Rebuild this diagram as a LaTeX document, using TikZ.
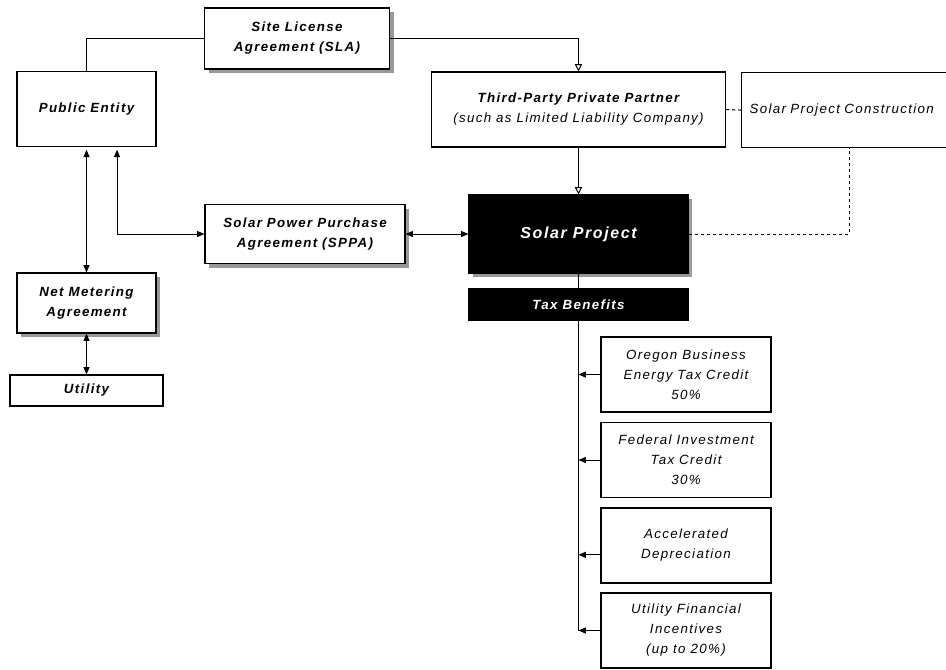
\documentclass[tikz,border=0pt]{standalone}
\usepackage{fontspec}
\setmainfont{Liberation Sans}[LetterSpace=10]
\usetikzlibrary{arrows.meta,shadows,calc}

\begin{document}
\begin{tikzpicture}[
        %Environment config
        x=0.75pt, y=-0.75pt,
        line width=0.75pt,
        >={Triangle[length=5.5pt,width=4.5pt]},
        %Environment styles
        BoxCfg/.style={
            draw,
            fill=white,
            line width=0.85pt,
            inner sep=2pt,
            align=center,
            font=\fontsize{10}{15}\selectfont\itshape
        },
        BoldCfg/.style={
            BoxCfg,
            font=\fontsize{10}{15}\selectfont\bfseries\itshape
        },
        ShadowCfg/.style={
            drop shadow={shadow xshift=3pt, shadow yshift=-3pt, fill=black!40, opacity=1}
        },
        DarkCfg/.style={
            BoldCfg,
            fill=black,
            text=white
        },
        OpenTip/.style={-{Triangle[open,length=5.5pt,width=5.5pt]}},
        DashCfg/.style={dash pattern=on 2.5pt off 2pt}
    ]
    \clip (0,0) rectangle (946,669);

    \path
        (297,38.5) node[BoldCfg,ShadowCfg,minimum width=138.75pt,minimum height=45.75pt](SLA){Site License\\Agreement (SLA)}
        (86.5,109) node[BoldCfg,minimum width=104.25pt,minimum height=56.25pt](PubEnt){Public Entity}
        (578.5,109.5) node[BoxCfg,minimum width=220.5pt,minimum height=56.25pt](Third){\textbf{Third-Party Private Partner}\\(such as Limited Liability Company)}
        (741,72) node[BoxCfg,anchor=north west,align=left,text width=175pt,inner xsep=6pt,minimum height=56.25pt](Constr){Solar Project Construction}
        (578.5,234) node[DarkCfg,ShadowCfg,font=\fontsize{12}{14}\selectfont\bfseries\itshape,minimum width=164.25pt,minimum height=58.5pt](Solar){Solar Project}
        (578.5,304.5) node[DarkCfg,minimum width=164.25pt,minimum height=23.25pt](Tax){Tax Benefits}
        (305,234) node[BoldCfg,ShadowCfg,minimum width=150pt,minimum height=44.25pt](SPPA){Solar Power Purchase\\Agreement (SPPA)}
        (86.5,303) node[BoldCfg,ShadowCfg,minimum width=104.25pt,minimum height=45pt](NetM){Net Metering\\Agreement}
        (86.5,390.5) node[BoldCfg,minimum width=114.75pt,minimum height=23.25pt](Utility){Utility};

    \path
        (686,374.5) node[BoxCfg,minimum width=127.5pt,minimum height=56.25pt](T1){Oregon Business\\Energy Tax Credit\\50\%}
        (686,460) node[BoxCfg,minimum width=127.5pt,minimum height=56.25pt](T2){Federal Investment\\Tax Credit\\30\%}
        (686,545.5) node[BoxCfg,minimum width=127.5pt,minimum height=56.25pt](T3){Accelerated\\Depreciation}
        (686,630.5) node[BoxCfg,minimum width=127.5pt,minimum height=56.25pt](T4){Utility Financial\\Incentives\\(up to 20\%)};

    \coordinate (T3in) at ([yshift=-7pt]T3.west);

    \draw
        (PubEnt.north) |- (SLA.west)
        (Solar.south) -- (Tax.north)
        (Tax.south) -- (Tax.south |- T4.west);

    \draw[OpenTip] (SLA.east) -| (Third.north);
    \draw[OpenTip] (Third.south) -- (Solar.north);

    \draw[DashCfg] (Third.east) -- (Constr.west);
    \draw[DashCfg] (Solar.east) -| ([xshift=81pt]Constr.south west);

    \foreach \t in {T1,T2,T4}
        \draw[->] (\t.west) -- (Tax.south |- \t.west);
    \draw[->] (T3in) -- (Tax.south |- T3in);

    \draw[<->,shorten <=2pt] (PubEnt.south) -- (NetM.north);
    \draw[<->,shorten <=2pt] ([xshift=22.9pt]PubEnt.south) |- (SPPA.west);
    \draw[<->] (SPPA.east) -- (Solar.west);
    \draw[<->] (NetM.south) -- (Utility.north);
\end{tikzpicture}
\end{document}
